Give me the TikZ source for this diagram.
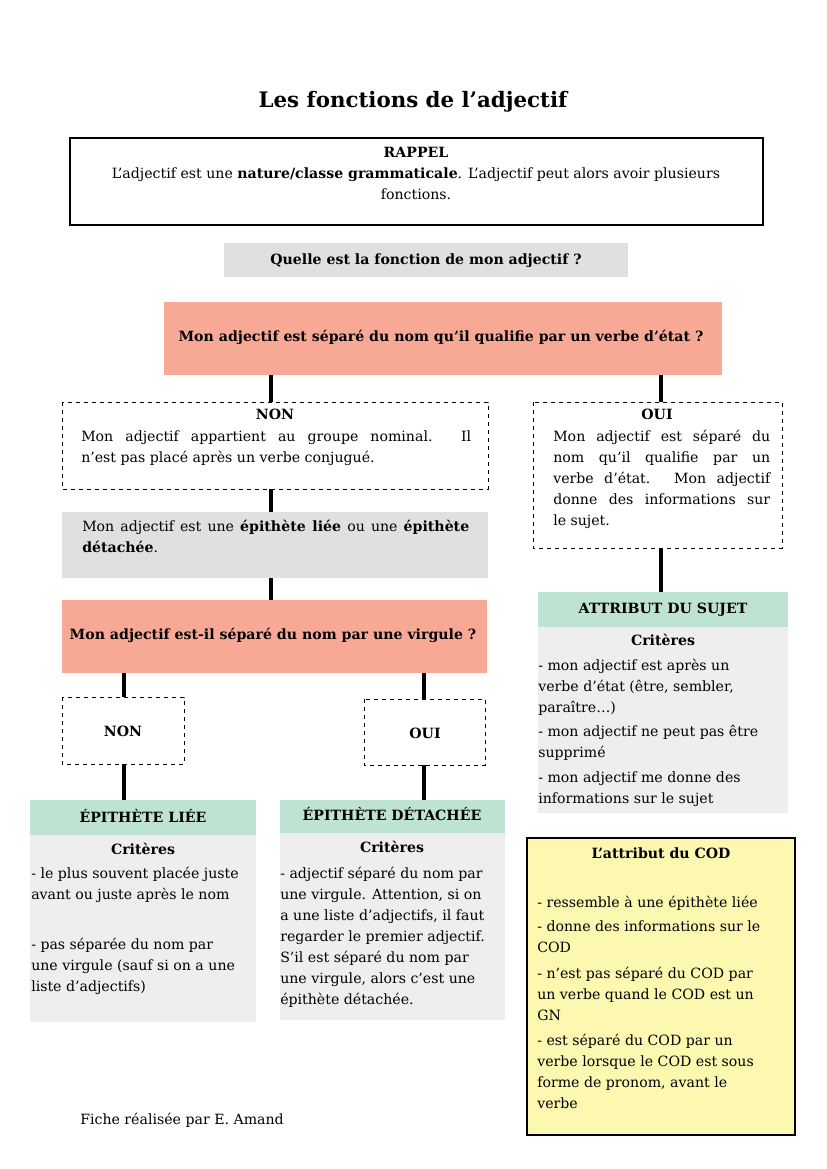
\documentclass[tikz,border=0pt]{standalone}
\usepackage{fontspec}
\setmainfont{DejaVu Serif}
\definecolor{salmon}{HTML}{F8A995}
\definecolor{lgray}{HTML}{E0E0E0}
\definecolor{bgray}{HTML}{EEEEEE}
\definecolor{mint}{HTML}{BFE3D3}
\definecolor{yel}{HTML}{FDF8B0}
\begin{document}
\begin{tikzpicture}[x=0.75pt,y=-0.75pt,
  txt/.style={font=\fontsize{10.6}{15.75}\selectfont, inner sep=0pt, align=left, anchor=north west},
  ctxt/.style={font=\fontsize{10.6}{15.75}\selectfont\bfseries, inner sep=0pt, align=center, anchor=base},
  conn/.style={line width=2.4pt},
  dbox/.style={draw, dashed, line width=0.5pt},
  tbox/.style={draw, line width=2.2pt}]
\useasboundingbox (0,0) rectangle (826,1169);
\node[font=\fontsize{16}{20}\selectfont\bfseries, anchor=base] (title) at (413,108) {Les fonctions de l’adjectif};
% rappel
\draw[tbox] (70,138) rectangle (763,225);
\node[ctxt] (rappel) at (416,158) {RAPPEL};
\node[txt, align=center, anchor=north] (rappeltxt) at (416,167) {L’adjectif est une \textbf{nature/classe grammaticale}. L’adjectif peut alors avoir plusieurs\\fonctions.};
% question
\fill[lgray] (224,243) rectangle (628,277);
\node[ctxt] (q) at (426,265) {Quelle est la fonction de mon adjectif ?};
\fill[salmon] (164,302) rectangle (722,375);
\node[ctxt] (s1) at (441,341) {Mon adjectif est séparé du nom qu’il qualifie par un verbe d’état ?};
\coordinate (a1) at (271,375); \coordinate (a2) at (271,402);
\coordinate (b1) at (661,375); \coordinate (b2) at (661,402);
\draw[conn] (a1)--(a2); \draw[conn] (b1)--(b2);
% NON box
\draw[dbox] (62,402) rectangle (488,489);
\node[ctxt] (non1) at (275,419) {NON};
\node[txt, text width=390*0.75pt, align=justify] (non1txt) at (81,430) {Mon adjectif appartient au groupe nominal. Il\linebreak n’est pas placé après un verbe conjugué.};
% OUI box
\draw[dbox] (533,402) rectangle (782,548);
\node[ctxt] (oui1) at (657,419) {OUI};
\node[txt, text width=217*0.75pt, align=justify] (oui1txt) at (553,430) {Mon adjectif est séparé du\linebreak nom qu’il qualifie par un\linebreak verbe d’état. Mon adjectif\linebreak donne des informations sur\linebreak le sujet.};
\coordinate (c1) at (271,489); \coordinate (c2) at (271,512);
\draw[conn] (c1)--(c2);
\fill[lgray] (62,512) rectangle (488,578);
\node[txt, text width=387*0.75pt, align=justify] (ep) at (82,520) {Mon adjectif est une \textbf{épithète liée} ou une \textbf{épithète}\linebreak\textbf{détachée}.};
\coordinate (d1) at (271,578); \coordinate (d2) at (271,600);
\draw[conn] (d1)--(d2);
\fill[salmon] (62,600) rectangle (487,673);
\node[ctxt] (s2) at (273,639) {Mon adjectif est-il séparé du nom par une virgule ?};
\coordinate (e1) at (124,673); \coordinate (e2) at (124,697);
\coordinate (f1) at (424,673); \coordinate (f2) at (424,699);
\draw[conn] (e1)--(e2); \draw[conn] (f1)--(f2);
\draw[dbox] (62,697) rectangle (184,764);
\node[ctxt] (non2) at (123,736) {NON};
\draw[dbox] (364,699) rectangle (485,765);
\node[ctxt] (oui2) at (425,738) {OUI};
\coordinate (g1) at (124,764); \coordinate (g2) at (124,800);
\coordinate (h1) at (424,765); \coordinate (h2) at (424,800);
\draw[conn] (g1)--(g2); \draw[conn] (h1)--(h2);
% epithete liee
\fill[mint] (30,800) rectangle (256,835);
\fill[bgray] (30,835) rectangle (256,1022);
\node[ctxt] (el) at (143,822) {ÉPITHÈTE LIÉE};
\node[ctxt] (elc) at (143,854) {Critères};
\node[txt] (el1) at (31,867) {- le plus souvent placée juste\\avant ou juste après le nom};
\node[txt] (el2) at (31,938) {- pas séparée du nom par\\une virgule (sauf si on a une\\liste d’adjectifs)};
% epithete detachee
\fill[mint] (280,800) rectangle (505,833);
\fill[bgray] (280,833) rectangle (505,1020);
\node[ctxt] (ed) at (392,820) {ÉPITHÈTE DÉTACHÉE};
\node[ctxt] (edc) at (392,852) {Critères};
\node[txt] (ed1) at (280,867) {- adjectif séparé du nom par\\une virgule. Attention, si on\\a une liste d’adjectifs, il faut\\regarder le premier adjectif.\\S’il est séparé du nom par\\une virgule, alors c’est une\\épithète détachée.};
% attribut du sujet
\coordinate (i1) at (661,548); \coordinate (i2) at (661,592);
\draw[conn] (i1)--(i2);
\fill[mint] (538,592) rectangle (788,627);
\fill[bgray] (538,627) rectangle (788,813);
\node[ctxt] (as) at (663,613) {ATTRIBUT DU SUJET};
\node[ctxt] (asc) at (663,645) {Critères};
\node[txt] (as1) at (538,659) {- mon adjectif est après un\\verbe d’état (être, sembler,\\paraître…)};
\node[txt] (as2) at (538,725) {- mon adjectif ne peut pas être\\supprimé};
\node[txt] (as3) at (538,771) {- mon adjectif me donne des\\informations sur le sujet};
% attribut du COD
\draw[tbox, fill=yel] (527,838) rectangle (795,1135);
\node[ctxt] (cod) at (661,858) {L’attribut du COD};
\node[txt] (cod1) at (537,896) {- ressemble à une épithète liée};
\node[txt] (cod2) at (537,920) {- donne des informations sur le\\COD};
\node[txt] (cod3) at (537,967) {- n’est pas séparé du COD par\\un verbe quand le COD est un\\GN};
\node[txt] (cod4) at (537,1034) {- est séparé du COD par un\\verbe lorsque le COD est sous\\forme de pronom, avant le\\verbe};
\node[txt] (foot) at (80,1113) {Fiche réalisée par E. Amand};
\end{tikzpicture}
\end{document}
